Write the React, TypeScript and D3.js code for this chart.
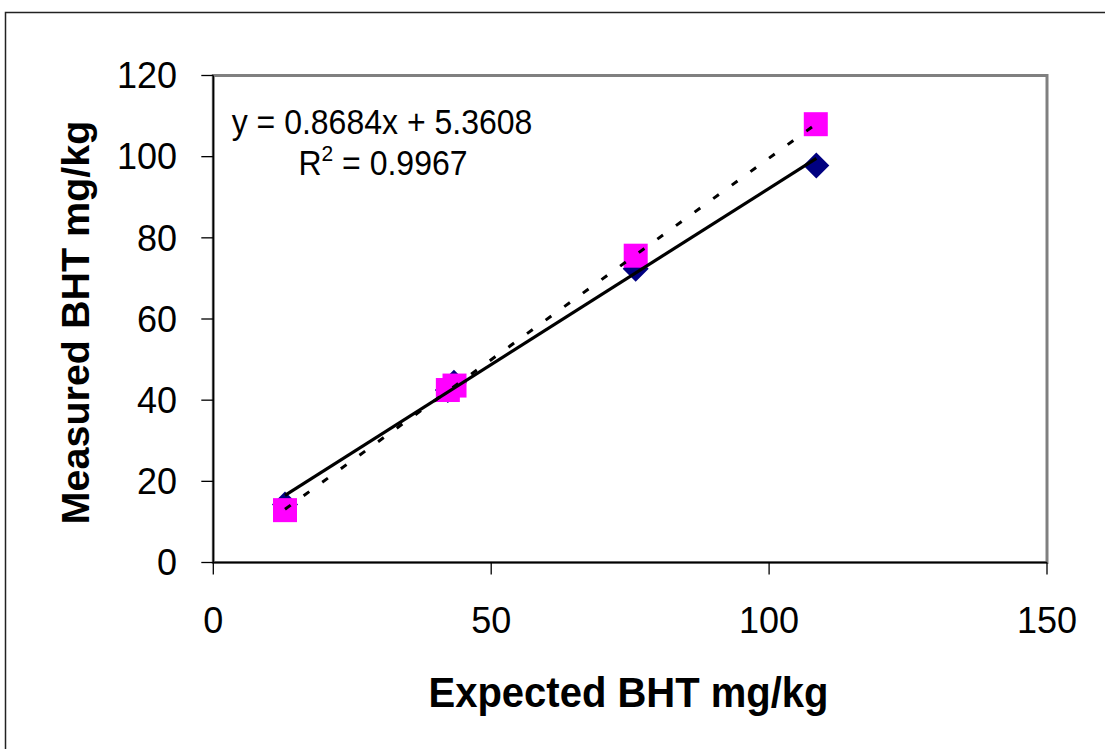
import React from "react";
import * as d3 from "d3";

// Data
const diamondX = [12.9, 42.2, 43.3, 76.0, 108.5];
const diamondY = [14.3, 42.5, 44.3, 72.4, 97.8];
const squareX = [12.9, 42.2, 43.4, 76.0, 108.4];
const squareY = [12.9, 42.5, 43.6, 75.6, 108.0];
const xTicks = [0, 50, 100, 150];
const yTicks = [0, 20, 40, 60, 80, 100, 120];
const fitSlope = 0.8684;
const fitIntercept = 5.3608;
const eqLine1 = "y = 0.8684x + 5.3608";
const r2Value = "0.9967";
const xTitle = "Expected BHT mg/kg";
const yTitle = "Measured BHT mg/kg";

const W = 1105;
const H = 749;
const FONT = "'Liberation Sans', Arial, Helvetica, sans-serif";

function leastSquares(xs: number[], ys: number[]) {
  const n = xs.length;
  const mx = d3.mean(xs) as number;
  const my = d3.mean(ys) as number;
  let sxy = 0;
  let sxx = 0;
  for (let i = 0; i < n; i++) {
    sxy += (xs[i] - mx) * (ys[i] - my);
    sxx += (xs[i] - mx) * (xs[i] - mx);
  }
  const m = sxy / sxx;
  return { m, b: my - m * mx };
}

export default function App() {
  const x = d3.scaleLinear().domain([0, 150]).range([213.3, 1047]);
  const y = d3.scaleLinear().domain([0, 120]).range([562.5, 75.5]);

  const line = d3
    .line<[number, number]>()
    .x((d) => x(d[0]))
    .y((d) => y(d[1]));

  const dx0 = d3.min(diamondX) as number;
  const dx1 = d3.max(diamondX) as number;
  const solidPts: [number, number][] = [
    [dx0, fitSlope * dx0 + fitIntercept],
    [dx1, fitSlope * dx1 + fitIntercept],
  ];
  const sq = leastSquares(squareX, squareY);
  const sx0 = d3.min(squareX) as number;
  const sx1 = d3.max(squareX) as number;
  const dashPts: [number, number][] = [
    [sx0, sq.m * sx0 + sq.b],
    [sx1, sq.m * sx1 + sq.b],
  ];

  const r = 13;
  const diamondPath = `M0,${-r}L${r},0L0,${r}L${-r},0Z`;
  const s = 24;

  const [x0, x1] = x.range();
  const [y0, y1] = y.range();

  return (
    <svg
      width={W}
      height={H}
      style={{ position: "absolute", left: 0, top: 0, background: "#fff" }}
      fontFamily={FONT}
    >
      <rect x={0} y={0} width={W} height={H} fill="#fff" />
      {/* outer chart frame */}
      <path d={`M5.5,${H + 10}V12.5H${W + 10}`} fill="none" stroke="#222" strokeWidth={1.5} />

      {/* plot area border */}
      <rect
        x={x0}
        y={y1}
        width={x1 - x0}
        height={y0 - y1}
        fill="#fff"
        stroke="#808080"
        strokeWidth={3}
      />

      {/* axes */}
      <line x1={x0} x2={x0} y1={y1} y2={y0} stroke="#000" strokeWidth={1.5} />
      <line x1={x0} x2={x1} y1={y0} y2={y0} stroke="#000" strokeWidth={1.5} />

      {yTicks.map((t) => (
        <g key={"y" + t}>
          <line x1={x0 - 12} x2={x0} y1={y(t)} y2={y(t)} stroke="#000" strokeWidth={1.3} />
          <text x={177} y={y(t) + 12.8} fontSize={36} textAnchor="end" fill="#000">
            {t}
          </text>
        </g>
      ))}
      {xTicks.map((t) => (
        <g key={"x" + t}>
          <line x1={x(t)} x2={x(t)} y1={y0} y2={y0 + 12} stroke="#000" strokeWidth={1.3} />
          <text x={x(t)} y={633} fontSize={36} textAnchor="middle" fill="#000">
            {t}
          </text>
        </g>
      ))}

      {/* markers */}
      {diamondX.map((v, i) => (
        <path
          key={"d" + i}
          d={diamondPath}
          transform={`translate(${x(v)},${y(diamondY[i])})`}
          fill="#000080"
        />
      ))}
      {squareX.map((v, i) => (
        <rect
          key={"s" + i}
          x={x(v) - s / 2}
          y={y(squareY[i]) - s / 2}
          width={s}
          height={s}
          fill="#FF00FF"
        />
      ))}

      {/* trendlines */}
      <path d={line(solidPts) || ""} fill="none" stroke="#000" strokeWidth={3.2} />
      <path
        d={line(dashPts) || ""}
        fill="none"
        stroke="#000"
        strokeWidth={3}
        strokeDasharray="7 16"
      />

      {/* equation */}
      <g transform="translate(382,134) scale(1,1.08)">
        <text x={0} y={0} fontSize={32} textAnchor="middle" fill="#000">
          {eqLine1}
        </text>
      </g>
      <g transform="translate(383,175) scale(1,1.08)">
        <text x={0} y={0} fontSize={32} textAnchor="middle" fill="#000">
          <tspan>R</tspan>
          <tspan fontSize={21} dy={-13}>2</tspan>
          <tspan dy={13}>{" = " + r2Value}</tspan>
        </text>
      </g>

      {/* axis titles */}
      <g transform="translate(628.5,707) scale(1,1.06)">
        <text x={0} y={0} fontSize={40} fontWeight="bold" textAnchor="middle" fill="#000">
          {xTitle}
        </text>
      </g>
      <text
        transform={`translate(89,322.5) rotate(-90)`}
        fontSize={39.5}
        fontWeight="bold"
        textAnchor="middle"
        fill="#000"
      >
        {yTitle}
      </text>
    </svg>
  );
}
